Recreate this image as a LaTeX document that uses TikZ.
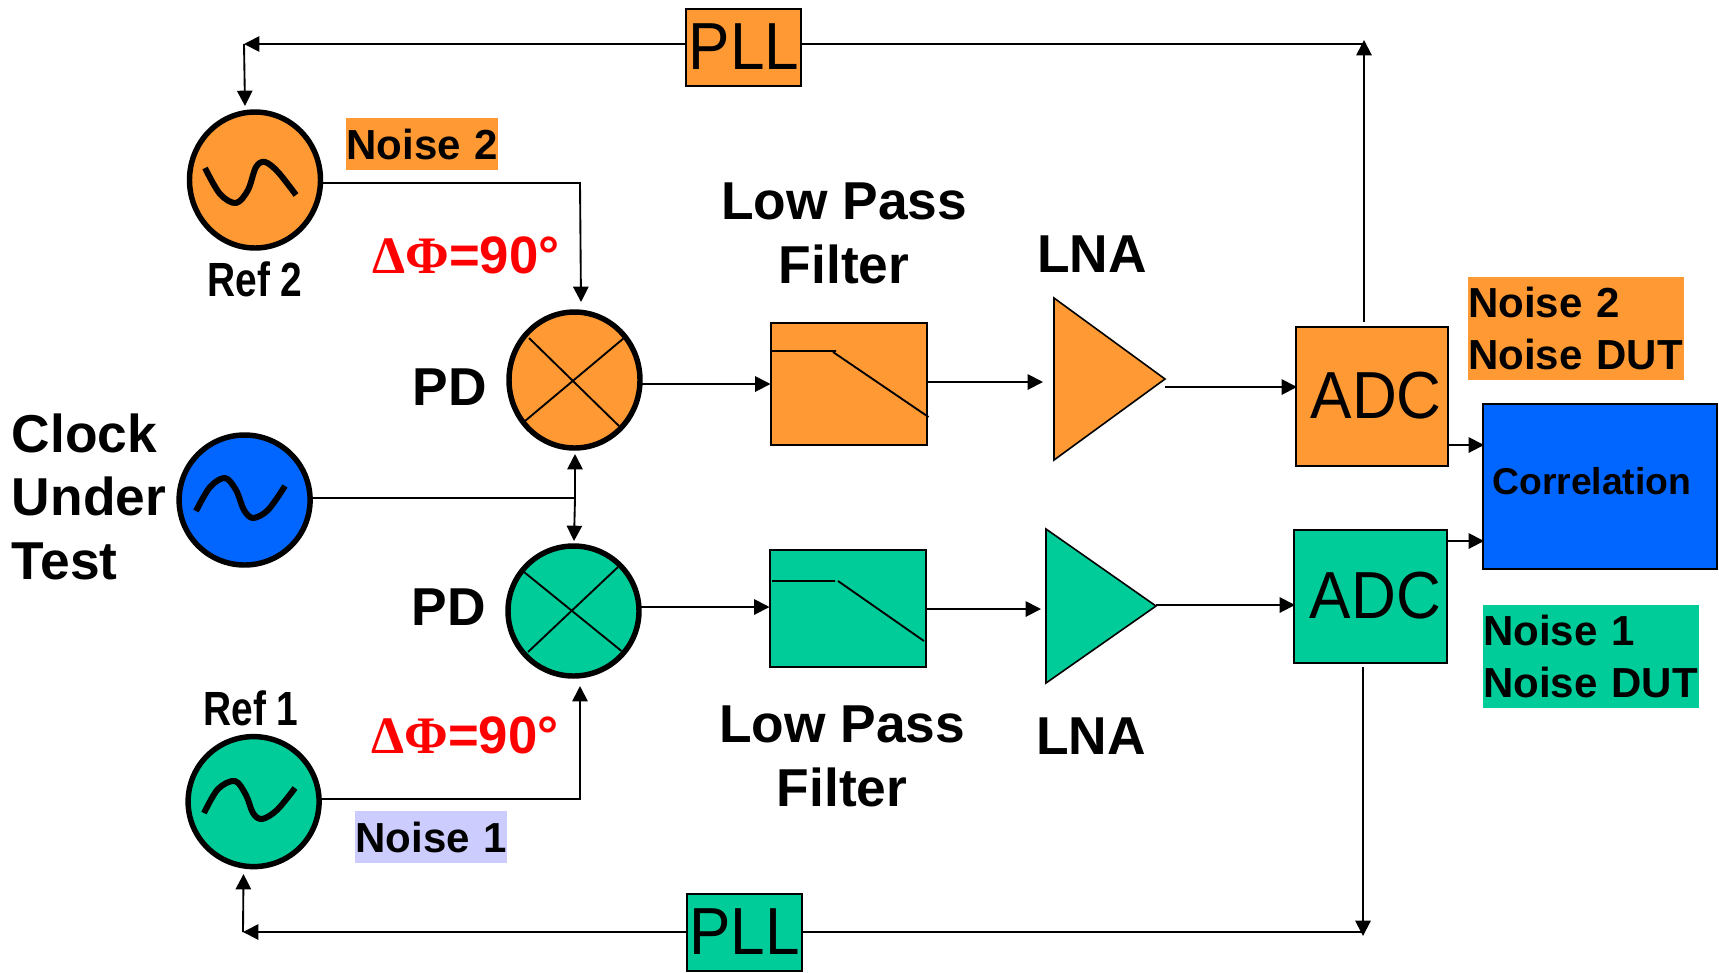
\documentclass[tikz,border=0pt]{standalone}
\usepackage{fontspec}
\usepackage{graphicx}
\setmainfont{Liberation Sans}
\newfontfamily\serifsym{Liberation Serif}
\usetikzlibrary{arrows.meta,shapes.geometric}
\definecolor{orangefill}{HTML}{FF9933}
\definecolor{greenfill}{HTML}{00CC99}
\definecolor{bluefill}{HTML}{0066FF}
\definecolor{lavfill}{HTML}{CCCCFF}
\tikzset{
  boxnode/.style={draw=black,line width=1.5pt,rectangle,inner sep=0pt,outer sep=0pt,font=\fontsize{48pt}{56pt}\selectfont},
  osc/.style={draw=black,line width=4.1pt,ellipse,inner sep=0pt,outer sep=0pt,minimum width=131*.75pt},
  wave/.style={line width=4.5pt,line cap=butt,line join=round},
  inner/.style={line width=1.4pt},
  conn/.style={line width=1.4pt},
  arr/.style={line width=1.4pt,-{Triangle[length=11.5pt,width=11.5pt]}},
  lna/.style={draw=black,line width=1.2pt,isosceles triangle,isosceles triangle stretches,inner sep=0pt,outer sep=0pt,anchor=lower side},
  tag/.style={inner sep=0pt,outer sep=0pt,align=left,font=\bfseries\fontsize{31.5pt}{38.5pt}\selectfont},
  big/.style={inner sep=0pt,outer sep=0pt,font=\bfseries\fontsize{40pt}{47.7pt}\selectfont},
  reftext/.style={inner sep=0pt,outer sep=0pt,font=\bfseries\fontsize{36pt}{40pt}\selectfont},
  phase/.style={inner sep=0pt,outer sep=0pt,text=red,font=\bfseries\fontsize{39.5pt}{48pt}\selectfont},
}
\begin{document}
\begin{tikzpicture}[x=.75pt,y=-.75pt]
\useasboundingbox (0,0) rectangle (1719,972);
% Boxes
\node[boxnode,fill=orangefill,minimum width=115*.75pt,minimum height=77*.75pt] (pll1) at (743.5,47) {\hspace*{1pt}\raisebox{-2pt}{\scalebox{.97}[1.04]{PLL}}};
\node[boxnode,fill=greenfill,minimum width=115*.75pt,minimum height=77*.75pt] (pll2) at (744,932) {\hspace*{1pt}\raisebox{-2pt}{\scalebox{.97}[1.04]{PLL}}};
\node[boxnode,fill=orangefill,minimum width=156*.75pt,minimum height=122*.75pt] (lpf1) at (848.5,383.5) {};
\node[boxnode,fill=greenfill,minimum width=156*.75pt,minimum height=117*.75pt] (lpf2) at (847.5,608) {};
\node[boxnode,fill=orangefill,minimum width=152*.75pt,minimum height=139*.75pt] (adc1) at (1371.5,396) {\hspace*{7pt}\raisebox{-3pt}{\scalebox{.97}[1.04]{ADC}}};
\node[boxnode,fill=greenfill,minimum width=153*.75pt,minimum height=133*.75pt] (adc2) at (1370,596) {\hspace*{8pt}\raisebox{-3pt}{\scalebox{.97}[1.04]{ADC}}};
\node[boxnode,fill=bluefill,minimum width=234*.75pt,minimum height=165*.75pt] (corr) at (1600,486) {};
\node[anchor=base west,inner sep=0pt,font=\bfseries\fontsize{28pt}{32pt}\selectfont] (corrtext) at (1492,494) {Correlation};
% LNAs
\node[lna,fill=orangefill,minimum width=162*.75pt,minimum height=111*.75pt] (lna1) at (1054,379) {};
\node[lna,fill=greenfill,minimum width=154*.75pt,minimum height=110*.75pt] (lna2) at (1046,606) {};
% Oscillators and phase detectors
\node[osc,fill=orangefill,minimum height=136*.75pt] (ref2) at (255,180) {};
\node[osc,fill=bluefill,minimum height=130*.75pt] (cut) at (244.6,500) {};
\node[osc,fill=greenfill,minimum height=130*.75pt] (ref1) at (253.6,801.6) {};
\node[osc,fill=orangefill,minimum height=136*.75pt] (pd1) at (574.5,380) {};
\node[osc,fill=greenfill,minimum height=130*.75pt] (pd2) at (573.5,611) {};
% Sine waves
\draw[wave] plot[smooth,tension=.55] coordinates {(205,168) (220,194) (236,203) (248,190) (256,167) (265,162) (278,172) (296,195)};
\draw[wave] plot[smooth,tension=.55] coordinates {(196,511) (210,487) (225,478) (236,490) (244,510) (253,518) (268,510) (285,486)};
\draw[wave] plot[smooth,tension=.55] coordinates {(204,813) (218,789) (235,781) (246,795) (253,813) (262,819) (277,810) (295,788)};
% Crosses
\draw[inner] (529,338) -- (619,426);
\draw[inner] (624,338) -- (525,421);
\draw[inner] (524,572) -- (621.5,651);
\draw[inner] (618,567) -- (528,652);
% Filter responses
\draw[inner] (772,351) -- (836,351) (833,352) -- (928.5,417);
\draw[inner] (772,581) -- (835,581) (838,581) -- (924,641);
% Free ends and corners
\coordinate (fbTL) at (244,44);
\coordinate (fbTR) at (1364,44);
\coordinate (fbBL) at (243,932);
\coordinate (fbBR) at (1363,932);
\coordinate (ref2in) at (245,106);
\coordinate (ref1in) at (243.5,874);
\coordinate (adc1up) at (1364,322);
\coordinate (adc2down) at (1363,667);
\coordinate (fbBRtip) at (1363,936);
\coordinate (fbTRtip) at (1364,40);
\coordinate (c2) at (580,183);
\coordinate (pd1top) at (581,302);
\coordinate (c1) at (580,799);
\coordinate (pd2low) at (580,686);
\coordinate (j) at (575,498);
\coordinate (pd1low) at (575,454);
\coordinate (pd2top) at (574,541);
\coordinate (lna1in) at (1043,382);
\coordinate (lna2in) at (1041,609);
\coordinate (adc1in) at (1297,387);
\coordinate (adc2in) at (1295,605);
\coordinate (lpf1y) at (800,384);
\coordinate (lpf2y) at (800,607);
\coordinate (corr1y) at (1484,445);
\coordinate (corr2y) at (1484,541);
% Connectors
\draw[arr] (pll1.west |- fbTL) -- (fbTL);
\draw[arr] (fbTL) -- (ref2in);
\draw[conn] (pll1.east |- fbTR) -- (fbTR);
\draw[arr] (adc1up) -- (fbTRtip);
\draw[arr] (pll2.west |- fbBL) -- (fbBL);
\draw[arr] (fbBL) -- (ref1in);
\draw[conn] (pll2.east |- fbBR) -- (fbBR);
\draw[arr] (adc2down) -- (fbBRtip);
\draw[arr] (c2 -| ref2.east) -- (c2) -- (pd1top);
\draw[arr] (c1 -| ref1.east) -- (c1) -- (pd2low);
\draw[conn] (j -| cut.east) -- (j);
\draw[arr] (j) -- (pd1low);
\draw[arr] (j) -- (pd2top);
\draw[arr] (pd1.east |- lpf1y) -- (lpf1y -| lpf1.west);
\draw[arr] (pd2.east |- lpf2y) -- (lpf2y -| lpf2.west);
\draw[arr] (lpf1.east |- lna1in) -- (lna1in);
\draw[arr] (lpf2.east |- lna2in) -- (lna2in);
\draw[arr] (lna1.apex |- adc1in) -- (adc1in);
\draw[arr] (lna2.apex |- adc2in) -- (adc2in);
\draw[arr] (adc1.east |- corr1y) -- (corr1y);
\draw[arr] (adc2.east |- corr2y) -- (corr2y);
% Tags
\node[tag,fill=orangefill,minimum width=152*.75pt,minimum height=52*.75pt,text width=151*.75pt] (noise2) at (422,144) {\mbox{Noise 2}};
\node[tag,fill=lavfill,minimum width=152*.75pt,minimum height=52*.75pt,text width=151*.75pt] (noise1) at (431,837) {\mbox{Noise 1}};
\node[tag,fill=orangefill,minimum width=216*.75pt,minimum height=103*.75pt,text width=216*.75pt] (noise2dut) at (1576,328.5) {\mbox{Noise 2}\\\mbox{Noise DUT}};
\node[tag,fill=greenfill,minimum width=216.5*.75pt,minimum height=103*.75pt,text width=216*.75pt] (noise1dut) at (1591,656.5) {\mbox{Noise 1}\\\mbox{Noise DUT}};
% Labels
\node[big,anchor=base west,align=left] (cutlabel) at (12,579.5) {Clock\\Under\\Test};
\node[big,anchor=base] (pd1label) at (450,405) {PD};
\node[big,anchor=base] (pd2label) at (449,625) {PD};
\node[big,anchor=base,align=center] (lpf1label) at (844,283) {Low Pass\\Filter};
\node[big,anchor=base,align=center] (lpf2label) at (842,806) {Low Pass\\Filter};
\node[big,anchor=base] (lna1label) at (1092,272) {LNA};
\node[big,anchor=base] (lna2label) at (1091,754) {LNA};
\node[reftext,anchor=base] (ref2label) at (255,296) {\scalebox{.81}[1]{Ref 2}};
\node[reftext,anchor=base] (ref1label) at (251,725) {\scalebox{.81}[1]{Ref 1}};
\node[phase,anchor=base] (phase2) at (466,273) {{\serifsym ΔΦ}=90°};
\node[phase,anchor=base] (phase1) at (465,753) {{\serifsym ΔΦ}=90°};
\end{tikzpicture}
\end{document}
